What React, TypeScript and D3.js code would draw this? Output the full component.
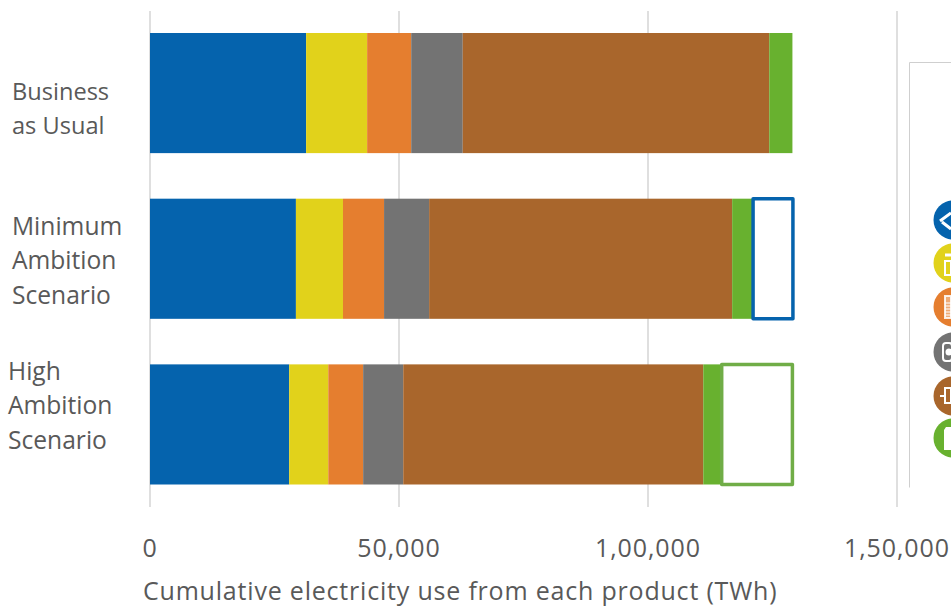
import React from "react";
import * as d3 from "d3";

const categories = ["Business as Usual", "Minimum Ambition Scenario", "High Ambition Scenario"];
const categoryLines = [["Business", "as Usual"], ["Minimum", "Ambition", "Scenario"], ["High", "Ambition", "Scenario"]];
const labelX = [12, 12, 8];
const labelY = [100, 235, 380];
const labelSize = [23.6, 24.6, 24.6];
const series = ["s1", "s2", "s3", "s4", "s5", "s6"];
const colors = ["#0563ad", "#e1d21b", "#e57e2f", "#737373", "#a9662c", "#68b12f"];
const s1 = [31350, 29300, 27950];
const s2 = [12250, 9450, 7850];
const s3 = [8850, 8250, 7000];
const s4 = [10350, 9050, 8050];
const s5 = [61550, 60850, 60250];
const s6 = [4650, 4000, 4000];
const seriesValues = [s1, s2, s3, s4, s5, s6];
const savings = [0, 8000, 14200];
const savingColors = ["none", "#0563ad", "#70ad47"];
const ticks = [0, 50000, 100000, 150000];
const tickLabels = ["0", "50,000", "1,00,000", "1,50,000"];
const axisTitle = "Cumulative electricity use from each product (TWh)";
const legendY = [220, 263, 307, 352, 396, 438];

const font = "'Open Sans', sans-serif";
const textColor = "#595959";

export default function App() {
  const x = d3.scaleLinear().domain([0, 150000]).range([150, 897]);
  const y = d3.scaleBand().domain(categories).range([33, 484.5]).paddingInner(0.275).paddingOuter(0);
  const stacks = d3.stack<number>().keys(series.map((_, i) => String(i))).value((i, k) => seriesValues[+k][i])(categories.map((_, i) => i));
  return (
    <svg width={951} height={606} style={{ position: "absolute", left: 0, top: 0 }} fontFamily={font}>
      {ticks.map((t) => (
        <line key={t} x1={x(t)} x2={x(t)} y1={11} y2={507} stroke="#d4d4d4" strokeWidth={1.5} />
      ))}
      <path d="M951.5,62.5H909.5V487.5" fill="none" stroke="#cfcfcf" strokeWidth={1} />
      {stacks.map((layer, si) =>
        layer.map((d, ci) => (
          <rect key={si + "-" + ci} x={x(d[0])} width={x(d[1]) - x(d[0])} y={y(categories[ci])!} height={y.bandwidth()} fill={colors[si]} />
        ))
      )}
      {categories.map((c, i) => {
        const start = seriesValues.reduce((a, s) => a + s[i], 0);
        return savings[i] > 0 ? (
          <rect key={c} x={x(start) + (i === 2 ? -1.5 : 1)} width={x(start + savings[i]) - x(start)} y={y(c)!} height={y.bandwidth()}
            fill="#fff" stroke={savingColors[i]} strokeWidth={3.5} strokeLinejoin="round" />
        ) : null;
      })}
      {categoryLines.map((lines, i) => (
        <text key={i} fontSize={labelSize[i]} fill={textColor}>
          {lines.map((l, j) => (
            <tspan key={j} x={labelX[i]} y={labelY[i] + j * 34.3}>{l}</tspan>
          ))}
        </text>
      ))}
      {ticks.map((t, i) => (
        <text key={t} x={x(t)} y={557} textAnchor="middle" fontSize={25} letterSpacing={0.9} fill={textColor}>{tickLabels[i]}</text>
      ))}
      <text x={143} y={600} fontSize={25} letterSpacing={0.8} fill={textColor}>{axisTitle}</text>
      {legendY.map((cy, i) => (
        <g key={i}>
          <circle cx={953} cy={cy} r={19.5} fill={colors[i]} />
          {i === 0 && <path d={`M940,${cy + 1}L951,${cy - 7}M942,${cy + 2}L951,${cy + 9}`} fill="none" stroke="#fff" strokeWidth={3} />}
          {i === 1 && (
            <g fill="none" stroke="#fff" strokeWidth={2}>
              <rect x={945} y={cy - 2} width={6} height={14} />
              <line x1={945} x2={951} y1={cy - 8} y2={cy - 8} strokeWidth={3} />
            </g>
          )}
          {i === 2 && (
            <g stroke="#fff" strokeWidth={1.2} strokeOpacity={0.85}>
              <rect x={945} y={cy - 11} width={6} height={22} fill="#fff" fillOpacity={0.35} strokeWidth={2} />
              {[-4, -1, 2, 5, 8].map((o) => <line key={o} x1={945} x2={951} y1={cy + o} y2={cy + o} />)}
            </g>
          )}
          {i === 3 && (
            <g>
              <rect x={943} y={cy - 9} width={9} height={18} rx={3} fill="none" stroke="#fff" strokeWidth={2} />
              <circle cx={949} cy={cy} r={3.5} fill="#fff" />
            </g>
          )}
          {i === 4 && (
            <g fill="none" stroke="#fff" strokeWidth={2}>
              <rect x={945} y={cy - 8} width={6} height={15} />
              <path d={`M940,${cy}H945`} />
            </g>
          )}
          {i === 5 && <path d={`M946,${cy - 11}H951V${cy + 12}H944V${cy - 8}Z`} fill="#fff" />}
        </g>
      ))}
    </svg>
  );
}
